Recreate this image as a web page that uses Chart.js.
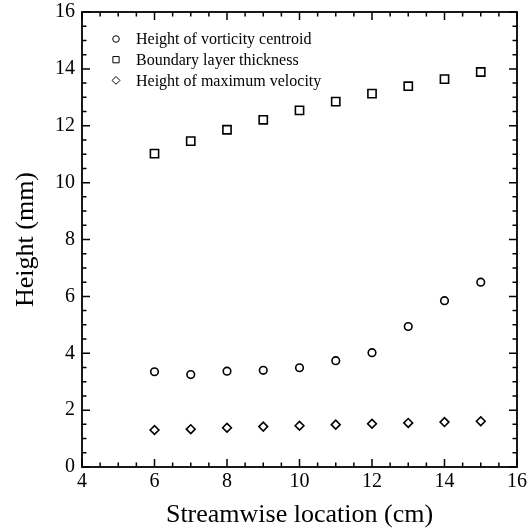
<!DOCTYPE html>
<html>
<head>
<meta charset="utf-8">
<script src="https://cdn.jsdelivr.net/npm/chart.js@4.4.0/dist/chart.umd.min.js"></script>
<style>
  html, body { margin: 0; padding: 0; background: #fff; }
  #wrap { width: 532px; height: 531px; }
</style>
</head>
<body>
<div id="wrap"><canvas id="chart"></canvas></div>
<script>
// Streamwise stations (cm) and measured heights (mm)
const locations = [6, 7, 8, 9, 10, 11, 12, 13, 14, 15];
const vorticityCentroid = [3.35, 3.25, 3.37, 3.40, 3.49, 3.74, 4.02, 4.94, 5.85, 6.50];
const boundaryLayer = [11.02, 11.46, 11.86, 12.21, 12.54, 12.85, 13.13, 13.39, 13.64, 13.89];
const maxVelocity = [1.30, 1.33, 1.38, 1.42, 1.45, 1.49, 1.52, 1.55, 1.58, 1.61];

const seriesLabels = [
  'Height of vorticity centroid',
  'Boundary layer thickness',
  'Height of maximum velocity',
];
const xRange = [4, 16];
const yRange = [0, 16];
const majorStep = 2;
const minorStep = 0.5;

const SERIF = "'Liberation Serif', 'DejaVu Serif', serif";

function toPoints(ys) {
  return locations.map((x, i) => ({ x, y: ys[i] }));
}

// Frame around the plot plus inward ticks on all four sides
const frameTicks = {
  id: 'frameTicks',
  afterDatasetsDraw(chart) {
    const { ctx, chartArea: a, scales } = chart;
    ctx.save();
    ctx.strokeStyle = '#000';
    ctx.lineWidth = 1.8;
    ctx.strokeRect(a.left, a.top, a.right - a.left, a.bottom - a.top);
    ctx.lineWidth = 1.5;
    ctx.beginPath();
    for (let v = xRange[0]; v <= xRange[1] + 1e-9; v += minorStep) {
      const px = scales.x.getPixelForValue(v);
      const len = v % majorStep === 0 ? 8 : 4.5;
      ctx.moveTo(px, a.bottom); ctx.lineTo(px, a.bottom - len);
      ctx.moveTo(px, a.top); ctx.lineTo(px, a.top + len);
    }
    for (let v = yRange[0]; v <= yRange[1] + 1e-9; v += minorStep) {
      const py = scales.y.getPixelForValue(v);
      const len = v % majorStep === 0 ? 8 : 4.5;
      ctx.moveTo(a.left, py); ctx.lineTo(a.left + len, py);
      ctx.moveTo(a.right, py); ctx.lineTo(a.right - len, py);
    }
    ctx.stroke();
    ctx.restore();
  },
};

// Legend drawn inside the upper-left of the plot, with smaller markers
const legendRadius = { circle: 3.3, rect: 4.4, rectRot: 3.9 };
const insideLegend = {
  id: 'insideLegend',
  afterDraw(chart) {
    const { ctx, chartArea: a } = chart;
    ctx.save();
    ctx.font = '16px ' + SERIF;
    ctx.textBaseline = 'middle';
    chart.data.datasets.forEach((ds, i) => {
      const y = a.top + 27 + i * 20.7;
      const mx = a.left + 34;
      ctx.strokeStyle = '#000';
      ctx.fillStyle = '#fff';
      Chart.helpers.drawPoint(ctx, {
        pointStyle: ds.pointStyle,
        radius: legendRadius[ds.pointStyle],
        rotation: 0,
        borderWidth: 1.6,
      }, mx, y);
      ctx.fillStyle = '#000';
      ctx.fillText(ds.label, a.left + 54, y + 1);
    });
    ctx.restore();
  },
};

const marker = { backgroundColor: '#fff', borderColor: '#000', borderWidth: 1.6 };

new Chart(document.getElementById('chart'), {
  type: 'scatter',
  data: {
    datasets: [
      { label: seriesLabels[0], data: toPoints(vorticityCentroid), pointStyle: 'circle', pointRadius: 3.8, ...marker },
      { label: seriesLabels[1], data: toPoints(boundaryLayer), pointStyle: 'rect', pointRadius: 5.8, ...marker },
      { label: seriesLabels[2], data: toPoints(maxVelocity), pointStyle: 'rectRot', pointRadius: 4.4, ...marker },
    ],
  },
  options: {
    responsive: true,
    maintainAspectRatio: false,
    animation: false,
    layout: { padding: { top: 12, right: 15, left: 0, bottom: 0 } },
    scales: {
      x: {
        type: 'linear',
        min: xRange[0],
        max: xRange[1],
        grid: { display: false, drawTicks: false },
        border: { display: false },
        ticks: {
          stepSize: majorStep,
          padding: 3,
          color: '#000',
          font: { family: SERIF, size: 20 },
        },
        title: {
          display: true,
          text: 'Streamwise location (cm)',
          color: '#000',
          font: { family: SERIF, size: 26 },
          padding: { top: 0, bottom: 0 },
        },
        afterFit(scale) {
          scale.height = 64;
          scale.paddingLeft = 0;
          scale.paddingRight = 0;
        },
      },
      y: {
        type: 'linear',
        min: yRange[0],
        max: yRange[1],
        grid: { display: false, drawTicks: false },
        border: { display: false },
        ticks: {
          stepSize: majorStep,
          padding: 7,
          color: '#000',
          font: { family: SERIF, size: 20 },
        },
        title: {
          display: true,
          text: 'Height (mm)',
          color: '#000',
          font: { family: SERIF, size: 26 },
          padding: { top: 11, bottom: 0 },
        },
        afterFit(scale) {
          scale.width = 82;
          scale.paddingTop = 0;
          scale.paddingBottom = 0;
        },
      },
    },
    plugins: {
      legend: { display: false },
      tooltip: { enabled: false },
    },
  },
  plugins: [frameTicks, insideLegend],
});
</script>
</body>
</html>
